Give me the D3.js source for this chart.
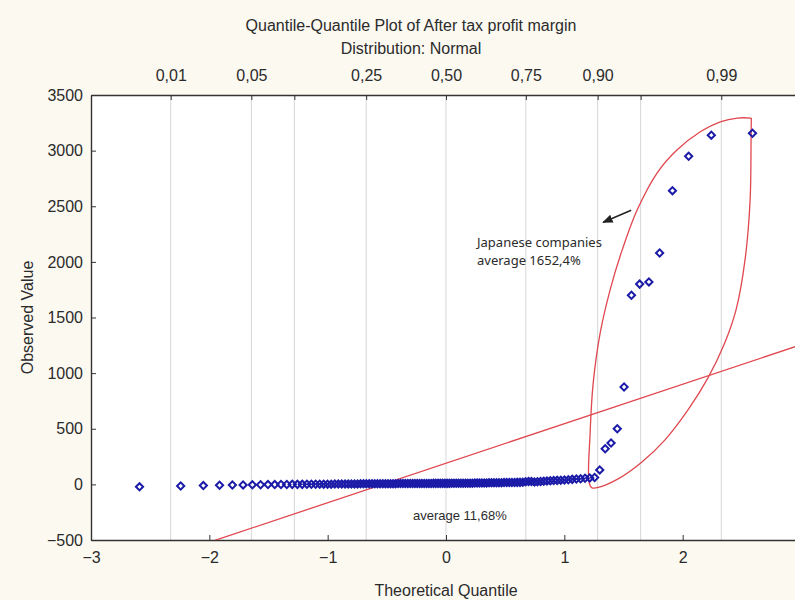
<!DOCTYPE html>
<html>
<head>
<meta charset="utf-8">
<script src="https://cdn.jsdelivr.net/npm/d3@7"></script>
<style>
  html, body { margin: 0; padding: 0; background: #fcf9f1; }
  svg { display: block; }
  text { font-family: "Liberation Sans", Arial, sans-serif; fill: #2b2b2b; }
</style>
</head>
<body>
<svg id="chart" width="795" height="600"></svg>
<script>
// Sorted observed values (after tax profit margin, %) — 117 other companies
const otherValues = [
  -22, -15, -11, -8, -6, -5, -4, -3, -2, -2,
  -1, -1, 0, 0, 0, 1, 1, 1, 2, 2, 2, 2, 3, 3, 3, 3, 4, 4, 4, 4,
  5, 5, 5, 5, 5, 5, 5, 6, 6, 6, 6, 6, 6, 6, 7, 7, 7, 7, 7, 7, 7,
  8, 8, 8, 8, 8, 8, 8, 8, 9, 9, 9, 9, 9, 9, 9, 9, 10, 10, 10, 10, 10, 10, 10, 10,
  11, 11, 12, 12, 12, 13, 13, 13, 14, 14, 14, 15, 15, 15, 16, 16, 16, 17, 17, 18, 18, 19, 24, 25, 25,
  22, 24, 26, 28, 30, 32, 34, 36, 38, 40,
  42, 45, 48, 51, 55, 58, 62
];
// Japanese companies (13 values, average 1652,4%)
const japanValues = [130, 320, 372, 500, 875, 1700, 1800, 1820, 2080, 2640, 2950, 3139, 3156];

// Axis ticks
const xTicks = [-3, -2, -1, 0, 1, 2, 3];
const yTicks = [-500, 0, 500, 1000, 1500, 2000, 2500, 3000, 3500];
const probTicks = [0.01, 0.05, 0.10, 0.25, 0.50, 0.75, 0.90, 0.95, 0.99];
const probLabels = ["0,01", "0,05", "", "0,25", "0,50", "0,75", "0,90", "", "0,99"];

// Reference line of the normal fit: value = intercept + slope * quantile
const fitIntercept = 190;
const fitSlope = 355;

// Hand-drawn outline around the Japanese companies, as [quantile, value]
const outlinePts = [
  [2.580, 3293], [2.578, 3096], [2.570, 2557], [2.527, 2018], [2.451, 1569],
  [2.349, 1254], [2.214, 957], [2.045, 669], [1.851, 400], [1.656, 202],
  [1.454, 49], [1.302, -23], [1.234, -32], [1.210, 13], [1.218, 462],
  [1.244, 912], [1.303, 1362], [1.387, 1749], [1.489, 2108], [1.616, 2468],
  [1.785, 2801], [1.954, 3007], [2.149, 3169], [2.318, 3259], [2.462, 3293],
  [2.580, 3293]
];
// Arrow pointing at the outline: [tail, head] as [quantile, value]
const arrowPts = [[1.565, 2464], [1.328, 2356]];

// Inverse standard normal CDF (Acklam's rational approximation)
function qnorm(p) {
  const a = [-3.969683028665376e+01, 2.209460984245205e+02, -2.759285104469687e+02,
             1.383577518672690e+02, -3.066479806614716e+01, 2.506628277459239e+00];
  const b = [-5.447609879822406e+01, 1.615858368580409e+02, -1.556989798598866e+02,
             6.680131188771972e+01, -1.328068155288572e+01];
  const c = [-7.784894002430293e-03, -3.223964580411365e-01, -2.400758277161838e+00,
             -2.549671010584810e+00, 4.374664141464968e+00, 2.938163982698783e+00];
  const d = [7.784695709041462e-03, 3.224671290700398e-01, 2.445134137142996e+00,
             3.754408661907416e+00];
  const pl = 0.02425;
  let q, r;
  if (p < pl) {
    q = Math.sqrt(-2 * Math.log(p));
    return (((((c[0]*q+c[1])*q+c[2])*q+c[3])*q+c[4])*q+c[5]) /
           ((((d[0]*q+d[1])*q+d[2])*q+d[3])*q+1);
  }
  if (p <= 1 - pl) {
    q = p - 0.5; r = q * q;
    return (((((a[0]*r+a[1])*r+a[2])*r+a[3])*r+a[4])*r+a[5])*q /
           (((((b[0]*r+b[1])*r+b[2])*r+b[3])*r+b[4])*r+1);
  }
  q = Math.sqrt(-2 * Math.log(1 - p));
  return -(((((c[0]*q+c[1])*q+c[2])*q+c[3])*q+c[4])*q+c[5]) /
          ((((d[0]*q+d[1])*q+d[2])*q+d[3])*q+1);
}

// Ranked observations with Blom plotting positions
const observed = otherValues.concat(japanValues);
const n = observed.length;
const points = observed.map((v, i) => ({ q: qnorm((i + 1 - 0.375) / (n + 0.25)), v }));

const svg = d3.select("#chart");
const plot = { left: 91, right: 801, top: 95, bottom: 540 };

const x = d3.scaleLinear().domain([-3, 3]).range([plot.left, plot.right]);
const y = d3.scaleLinear().domain([-500, 3500]).range([plot.bottom, plot.top]);

// Background of the plotting area
svg.append("rect")
  .attr("x", plot.left).attr("y", plot.top)
  .attr("width", plot.right - plot.left).attr("height", plot.bottom - plot.top)
  .attr("fill", "#ffffff");

svg.append("clipPath").attr("id", "plotClip")
  .append("rect")
  .attr("x", plot.left).attr("y", plot.top)
  .attr("width", plot.right - plot.left).attr("height", plot.bottom - plot.top);

// Vertical grid at probability positions
svg.append("g").selectAll("line").data(probTicks).join("line")
  .attr("x1", d => x(qnorm(d))).attr("x2", d => x(qnorm(d)))
  .attr("y1", plot.top).attr("y2", plot.bottom)
  .attr("stroke", "#d6d6d6").attr("stroke-width", 1);

// Axes with inward ticks
const axisStyle = g => {
  g.selectAll(".domain").attr("stroke", "#333").attr("stroke-width", 1.4);
  g.selectAll(".tick line").attr("stroke", "#333");
  g.selectAll("text").attr("fill", "#2b2b2b").style("font-family", "'Liberation Sans', Arial, sans-serif");
};

svg.append("g")
  .attr("transform", `translate(${plot.left},0)`)
  .call(d3.axisLeft(y).tickValues(yTicks).tickSize(-5).tickSizeOuter(0).tickPadding(8).tickFormat(d3.format("d")))
  .call(axisStyle)
  .selectAll("text").style("font-size", "16px");

svg.append("g")
  .attr("transform", `translate(0,${plot.bottom})`)
  .call(d3.axisBottom(x).tickValues(xTicks).tickSize(-5).tickSizeOuter(0).tickPadding(12).tickFormat(d3.format("d")))
  .call(axisStyle)
  .selectAll("text").style("font-size", "16px");

const topAxis = d3.axisTop(x)
  .tickValues(probTicks.map(qnorm))
  .tickSize(-5).tickSizeOuter(0).tickPadding(14)
  .tickFormat((d, i) => probLabels[i]);
svg.append("g")
  .attr("transform", `translate(0,${plot.top})`)
  .call(topAxis)
  .call(axisStyle)
  .selectAll("text").style("font-size", "16px");

// Plotted marks, clipped to the plotting area
const marks = svg.append("g").attr("clip-path", "url(#plotClip)");

// Normal fit reference line
marks.append("line")
  .attr("x1", x(-3)).attr("y1", y(fitIntercept + fitSlope * -3))
  .attr("x2", x(3)).attr("y2", y(fitIntercept + fitSlope * 3))
  .attr("stroke", "#e0474f").attr("stroke-width", 1.3);

// Outline around the Japanese companies
marks.append("path")
  .datum(outlinePts)
  .attr("d", d3.line().x(d => x(d[0])).y(d => y(d[1])).curve(d3.curveCatmullRom.alpha(0.5)))
  .attr("fill", "none").attr("stroke", "#e0474f").attr("stroke-width", 1.3);

// Observations as hollow diamonds
const diamond = d3.symbol().type(d3.symbolSquare).size(26);
marks.append("g").selectAll("path").data(points).join("path")
  .attr("d", diamond)
  .attr("transform", d => `translate(${x(d.q)},${y(d.v)}) rotate(45)`)
  .attr("fill", "none").attr("stroke", "#1b1ba8").attr("stroke-width", 2);

// Arrow annotation
svg.append("defs").append("marker")
  .attr("id", "arrowHead").attr("viewBox", "0 0 10 10")
  .attr("refX", 9).attr("refY", 5)
  .attr("markerWidth", 7).attr("markerHeight", 7)
  .attr("orient", "auto")
  .append("path").attr("d", "M0,1 L10,5 L0,9 Z").attr("fill", "#222");
marks.append("line")
  .attr("x1", x(arrowPts[0][0])).attr("y1", y(arrowPts[0][1]))
  .attr("x2", x(arrowPts[1][0])).attr("y2", y(arrowPts[1][1]))
  .attr("stroke", "#222").attr("stroke-width", 1.5)
  .attr("marker-end", "url(#arrowHead)");

// Text annotations
const noteJapan = svg.append("text")
  .attr("x", x(0.262)).attr("y", y(2130))
  .style("font-family", "'Noto Sans', 'Open Sans', sans-serif")
  .style("font-size", "13px").attr("fill", "#3a3a3a");
noteJapan.append("tspan").text("Japanese companies");
noteJapan.append("tspan").attr("x", x(0.262)).attr("dy", 18).text("average 1652,4%");

svg.append("text")
  .attr("x", x(-0.279)).attr("y", y(-320))
  .style("font-size", "13px").attr("fill", "#3a3a3a")
  .text("average 11,68%");

// Titles
svg.append("text").attr("x", 411).attr("y", 31).attr("text-anchor", "middle")
  .style("font-size", "16px").text("Quantile-Quantile Plot of After tax profit margin");
svg.append("text").attr("x", 411).attr("y", 54).attr("text-anchor", "middle")
  .style("font-size", "16px").text("Distribution: Normal");
svg.append("text").attr("x", x(0)).attr("y", 596).attr("text-anchor", "middle")
  .style("font-size", "16px").text("Theoretical Quantile");
svg.append("text")
  .attr("transform", `translate(33,${(plot.top + plot.bottom) / 2}) rotate(-90)`)
  .attr("text-anchor", "middle")
  .style("font-size", "16px").text("Observed Value");
</script>
</body>
</html>
